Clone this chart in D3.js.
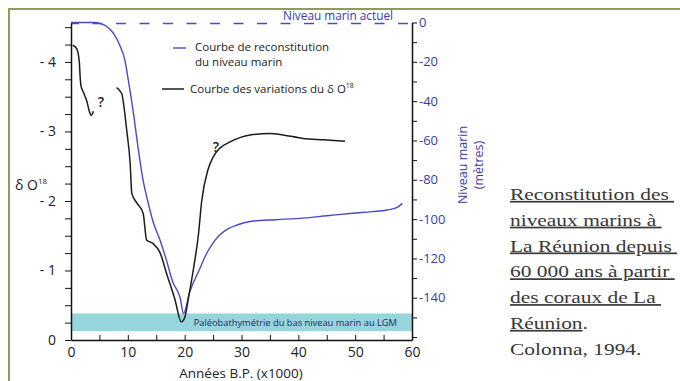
<!DOCTYPE html>
<html>
<head>
<meta charset="utf-8">
<script src="https://cdn.jsdelivr.net/npm/d3@7"></script>
<style>
  html, body { margin: 0; padding: 0; background: #ffffff; }
  svg { display: block; }
  text { font-family: "Open Sans", "Noto Sans", sans-serif; }
  text.note { font-family: "Liberation Serif", "DejaVu Serif", serif; }
</style>
</head>
<body>
<svg id="chart" width="680" height="381"></svg>
<script>
// Ages in thousands of years before present
const xTicks = [0, 10, 20, 30, 40, 50, 60];
const leftTickLabels = [0, -1, -2, -3, -4];
const rightTickLabels = [0, -20, -40, -60, -80, -100, -120, -140];

// Reconstructed sea level (metres) against age
const seaAge = [0, 4.2, 5.1, 6.0, 6.9, 7.7, 8.6, 9.5, 10.1, 11.0, 11.8, 12.7, 13.5, 14.4, 15.7, 16.8, 17.9, 19.2, 19.8, 20.9, 22.7, 23.6, 24.8, 26.2, 27.6, 29.2, 32, 36, 40.8, 45, 49.6, 53, 55.6, 57.4, 58.3];
const seaLevel = [0, 0, -0.5, -1.5, -3.6, -6.6, -11.7, -19.4, -29.6, -46.4, -63.6, -80.6, -90.8, -101, -111, -121, -132, -140, -148, -137, -125, -119, -113, -108, -105, -103, -101, -100.3, -99.5, -98.3, -97, -96.2, -95.4, -94, -92];

// δ18O record, recent part
const d18AgeA = [0.3, 1.0, 1.46, 1.6, 1.75, 2.2, 2.8, 3.3, 3.55, 3.95];
const d18ValA = [-4.24, -4.19, -4.0, -3.8, -3.66, -3.56, -3.43, -3.27, -3.23, -3.29];

// δ18O record, older part
const d18AgeB = [8.0, 8.9, 9.8, 10.4, 10.7, 11.6, 12.7, 13.3, 14.4, 15.7, 16.8, 18.3, 19.4, 20.0, 20.7, 21.6, 22.4, 23.0, 24.1, 25.0, 26.2, 28, 31.5, 35, 37.3, 40.8, 44.4, 48.2];
const d18ValB = [-3.63, -3.55, -3.02, -2.55, -2.11, -1.97, -1.82, -1.44, -1.39, -1.25, -0.96, -0.58, -0.26, -0.32, -0.62, -1.05, -1.5, -2.0, -2.45, -2.63, -2.76, -2.85, -2.95, -2.97, -2.95, -2.9, -2.88, -2.86];

// Low-stand palaeobathymetry band (metres)
const lgmBand = [-148, -157];

const noteLines = [
  { text: "Reconstitution des ", link: true },
  { text: "niveaux marins à ", link: true },
  { text: "La Réunion depuis ", link: true },
  { text: "60 000 ans à partir ", link: true },
  { text: "des coraux de La ", link: true },
  { text: "Réunion", link: true, tail: "." },
  { text: "Colonna, 1994.", link: false }
];

const BLUE = "#4a4ac6";
const BLUE_TEXT = "#3a3aa6";
const INK = "#1c1c1c";

const svg = d3.select("#chart");

// olive frame
svg.append("path")
  .attr("d", "M9,381 L9,9 L680,9")
  .attr("fill", "none")
  .attr("stroke", "#8f9c55")
  .attr("stroke-width", 2);

const x = d3.scaleLinear().domain([0, 60]).range([71, 412]);
const yL = d3.scaleLinear().domain([0, -4.56]).range([340, 23]);
const yR = d3.scaleLinear().domain([0, -161.5]).range([22.5, 340]);

// LGM band
svg.append("rect")
  .attr("x", x(0))
  .attr("y", yR(lgmBand[0]))
  .attr("width", x(60) - x(0))
  .attr("height", yR(lgmBand[1]) - yR(lgmBand[0]))
  .attr("fill", "#97d5dd");

svg.append("text")
  .attr("x", 397)
  .attr("y", 326)
  .attr("text-anchor", "end")
  .attr("font-size", 9.3)
  .attr("fill", "#1f2a5c")
  .text("Paléobathymétrie du bas niveau marin au LGM");

// present sea level, dashed
svg.append("line")
  .attr("x1", x(0)).attr("x2", 409)
  .attr("y1", yR(0) + 1).attr("y2", yR(0) + 1)
  .attr("stroke", BLUE)
  .attr("stroke-width", 1.5)
  .attr("stroke-dasharray", "10 13.5")
  .attr("stroke-dashoffset", 2);

svg.append("text")
  .attr("x", 283)
  .attr("y", 20)
  .attr("font-size", 11.8)
  .attr("fill", BLUE_TEXT)
  .text("Niveau marin actuel");

// curves
const seaLine = d3.line()
  .x(d => x(d[0])).y(d => yR(d[1]))
  .curve(d3.curveMonotoneX);
const d18Line = d3.line()
  .x(d => x(d[0])).y(d => yL(d[1]))
  .curve(d3.curveMonotoneX);

svg.append("path")
  .datum(d3.zip(seaAge, seaLevel))
  .attr("d", seaLine)
  .attr("fill", "none")
  .attr("stroke", BLUE)
  .attr("stroke-width", 1.4);

[[d18AgeA, d18ValA], [d18AgeB, d18ValB]].forEach(([a, v]) => {
  svg.append("path")
    .datum(d3.zip(a, v))
    .attr("d", d18Line)
    .attr("fill", "none")
    .attr("stroke", INK)
    .attr("stroke-width", 1.5);
});

// question marks beside uncertain parts of the record
svg.append("text").attr("x", 101).attr("y", 107).attr("text-anchor", "middle")
  .attr("font-size", 14).attr("font-weight", 600).attr("fill", INK).text("?");
svg.append("text").attr("x", 216).attr("y", 152).attr("text-anchor", "middle")
  .attr("font-size", 14).attr("font-weight", 600).attr("fill", INK).text("?");

// axes
function styleAxis(g, color) {
  g.select(".domain").attr("stroke", "#111").attr("stroke-width", 1.5);
  g.selectAll(".tick line").attr("stroke", "#111").attr("stroke-width", 1);
  g.selectAll(".tick text").attr("fill", color).attr("font-family", "Open Sans, sans-serif");
}

const leftAxis = d3.axisLeft(yL)
  .tickValues(d3.range(0, -4.51, -0.25))
  .tickSize(6).tickSizeOuter(0).tickPadding(9)
  .tickFormat(d => leftTickLabels.includes(d) ? (d === 0 ? "0" : "- " + Math.abs(d)) : "");
svg.append("g").attr("transform", `translate(${x(0)},0)`).call(leftAxis)
  .call(g => { styleAxis(g, "#222"); g.selectAll(".tick text").attr("font-size", 14); });

const bottomAxis = d3.axisBottom(x)
  .tickValues(d3.range(0, 61, 5))
  .tickSize(-5).tickSizeOuter(0).tickPadding(7)
  .tickFormat(d => xTicks.includes(d) ? d : "");
svg.append("g").attr("transform", `translate(0,340)`).call(bottomAxis)
  .call(g => { styleAxis(g, "#222"); g.selectAll(".tick text").attr("font-size", 14); });

const rightAxis = d3.axisRight(yR)
  .tickValues(d3.range(0, -161, -10))
  .tickSize(5).tickSizeOuter(0).tickPadding(2)
  .tickFormat(d => rightTickLabels.includes(d) ? (d === 0 ? "0" : "-" + Math.abs(d)) : "");
svg.append("g").attr("transform", `translate(${x(60)},0)`).call(rightAxis)
  .call(g => { styleAxis(g, BLUE_TEXT); g.selectAll(".tick text").attr("font-size", 13); });

// axis titles
svg.append("text")
  .attr("x", 241).attr("y", 378)
  .attr("text-anchor", "middle")
  .attr("font-size", 13.5).attr("fill", "#222")
  .text("Années B.P. (x1000)");

const dTitle = svg.append("text").attr("x", 15).attr("y", 190)
  .attr("font-size", 14).attr("fill", "#222");
dTitle.append("tspan").text("δ O");
dTitle.append("tspan").attr("font-size", 8).attr("dy", -6).text("18");

const rTitle = svg.append("text")
  .attr("transform", "translate(467,165) rotate(-90)")
  .attr("text-anchor", "middle")
  .attr("font-size", 12.5).attr("fill", BLUE_TEXT);
rTitle.append("tspan").attr("x", 0).attr("dy", 0).text("Niveau marin");
rTitle.append("tspan").attr("x", 0).attr("dy", 16).text("(mètres)");

// legend
svg.append("line").attr("x1", 173).attr("x2", 186).attr("y1", 48).attr("y2", 48)
  .attr("stroke", BLUE).attr("stroke-width", 1.4);
svg.append("text").attr("x", 195).attr("y", 51).attr("font-size", 11.5).attr("fill", "#222")
  .text("Courbe de reconstitution");
svg.append("text").attr("x", 195).attr("y", 66).attr("font-size", 11.5).attr("fill", "#222")
  .text("du niveau marin");

svg.append("line").attr("x1", 162).attr("x2", 184).attr("y1", 89).attr("y2", 89)
  .attr("stroke", INK).attr("stroke-width", 1.5);
const lg2 = svg.append("text").attr("x", 190).attr("y", 93).attr("font-size", 11.5).attr("fill", "#222");
lg2.append("tspan").text("Courbe des variations du δ O");
lg2.append("tspan").attr("font-size", 7).attr("dy", -5).text("18");

// side note
const note = svg.append("g").attr("transform", "translate(510,0) scale(1.26,1)");
noteLines.forEach((ln, i) => {
  const t = note.append("text")
    .attr("class", "note")
    .attr("x", 0)
    .attr("y", 200 + i * 25.8)
    .attr("font-size", 17)
    .attr("fill", "#383838")
    .style("white-space", "pre");
  t.append("tspan")
    .attr("text-decoration", ln.link ? "underline" : null)
    .text(ln.text);
  if (ln.tail) t.append("tspan").text(ln.tail);
});
</script>
</body>
</html>
